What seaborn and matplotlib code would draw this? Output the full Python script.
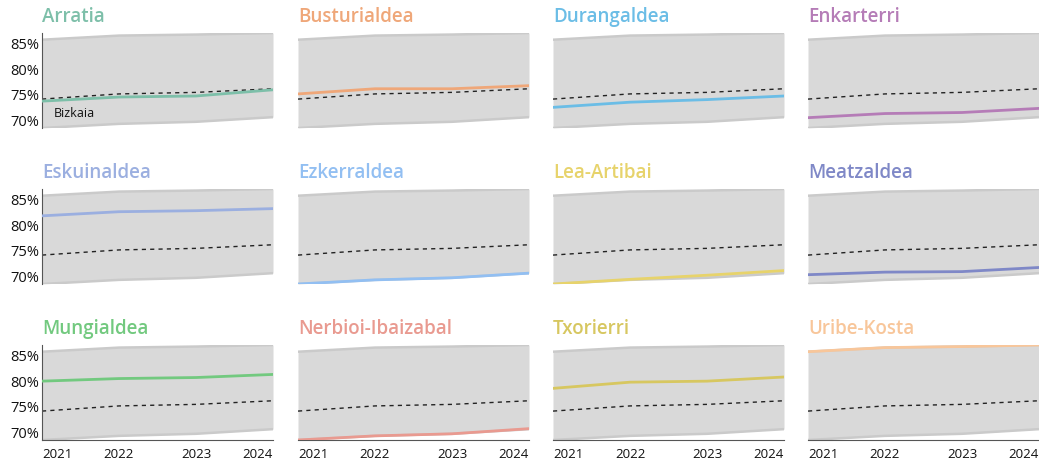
import pandas as pd
import seaborn as sns
import matplotlib.pyplot as plt

years = [2021, 2022, 2023, 2024]

regions = ["Arratia", "Busturialdea", "Durangaldea", "Enkarterri",
           "Eskuinaldea", "Ezkerraldea", "Lea-Artibai", "Meatzaldea",
           "Mungialdea", "Nerbioi-Ibaizabal", "Txorierri", "Uribe-Kosta"]

arratia = [73.8, 74.6, 74.8, 76.0]
busturialdea = [75.2, 76.2, 76.2, 76.8]
durangaldea = [72.6, 73.6, 74.1, 74.8]
enkarterri = [70.6, 71.4, 71.6, 72.4]
eskuinaldea = [81.8, 82.6, 82.8, 83.2]
ezkerraldea = [68.6, 69.4, 69.8, 70.7]
lea_artibai = [68.6, 69.5, 70.3, 71.2]
meatzaldea = [70.4, 70.9, 71.0, 71.8]
mungialdea = [80.0, 80.5, 80.7, 81.3]
nerbioi = [68.6, 69.4, 69.8, 70.8]
txorierri = [78.6, 79.8, 80.0, 80.8]
uribe_kosta = [85.7, 86.5, 86.7, 87.0]
bizkaia = [74.2, 75.2, 75.5, 76.2]

colors = ["#7dbfa9", "#efa779", "#6bbde6", "#b57cb7",
          "#9bafe0", "#92bff2", "#e7d36b", "#7f88c7",
          "#72c97f", "#e99a90", "#d7c760", "#f8c69a"]

series = [arratia, busturialdea, durangaldea, enkarterri,
          eskuinaldea, ezkerraldea, lea_artibai, meatzaldea,
          mungialdea, nerbioi, txorierri, uribe_kosta]

rows = []
for name, vals in zip(regions, series):
    for y, v in zip(years, vals):
        rows.append({"region": name, "year": y, "value": v})
df = pd.DataFrame(rows)
band = df.groupby("year")["value"].agg(["min", "max"]).reset_index()
biz = pd.DataFrame({"year": years, "value": bizkaia})

sns.set_style("white")
plt.rcParams["font.family"] = ["Open Sans", "DejaVu Sans"]

W, H = 1039, 463
fig = plt.figure(figsize=(W / 100, H / 100), dpi=100)

lefts = [42, 298, 553, 808]
tops = [33, 189, 345]
aw, ah = 231, 95
ymin, ymax = df["value"].min(), df["value"].max()

for i, name in enumerate(regions):
    r, c = divmod(i, 4)
    ax = fig.add_axes([lefts[c] / W, 1 - (tops[r] + ah) / H, aw / W, ah / H])
    ax.fill_between(band["year"], band["min"], band["max"], color="#d9d9d9", lw=0, zorder=1)
    ax.plot(band["year"], band["max"], color="#cacaca", lw=1.8, zorder=1.5)
    ax.plot(band["year"], band["min"], color="#cacaca", lw=1.8, zorder=1.5)
    sns.lineplot(data=biz, x="year", y="value", ax=ax, color="#222222",
                 lw=1, linestyle=(0, (3, 3)), zorder=2)
    sns.lineplot(data=df[df["region"] == name], x="year", y="value", ax=ax,
                 color=colors[i], lw=2, zorder=3)
    ax.set_xlim(2021, 2024)
    ax.set_ylim(ymin, ymax)
    ax.set_xlabel("")
    ax.set_ylabel("")
    ax.text(0, 1.06, name, transform=ax.transAxes, color=colors[i],
            fontsize=13.5, fontweight="semibold", ha="left", va="bottom")
    for s in ["top", "right"]:
        ax.spines[s].set_visible(False)
    ax.spines["left"].set_visible(c == 0)
    ax.spines["bottom"].set_visible(r == 2)
    ax.spines["left"].set_color("#555555")
    ax.spines["bottom"].set_color("#555555")
    ax.set_yticks([70, 75, 80, 85])
    if c == 0:
        ax.set_yticklabels(["70%", "75%", "80%", "85%"], fontsize=10.5, color="#111111")
        ax.tick_params(axis="y", length=0, pad=2)
    else:
        ax.set_yticklabels([])
        ax.tick_params(axis="y", length=0)
    ax.set_xticks(years)
    if r == 2:
        ax.set_xticklabels([str(y) for y in years], fontsize=9.5, color="#111111")
        ax.tick_params(axis="x", length=5, width=1, color="#555555", pad=1)
        labs = ax.get_xticklabels()
        labs[0].set_ha("left")
        labs[-1].set_ha("right")
    else:
        ax.set_xticklabels([])
        ax.tick_params(axis="x", length=0)
    if i == 0:
        ax.text(2021.15, 71.4, "Bizkaia", fontsize=9, color="#111111",
                ha="left", va="center")

fig.savefig("out.png", dpi=100)
